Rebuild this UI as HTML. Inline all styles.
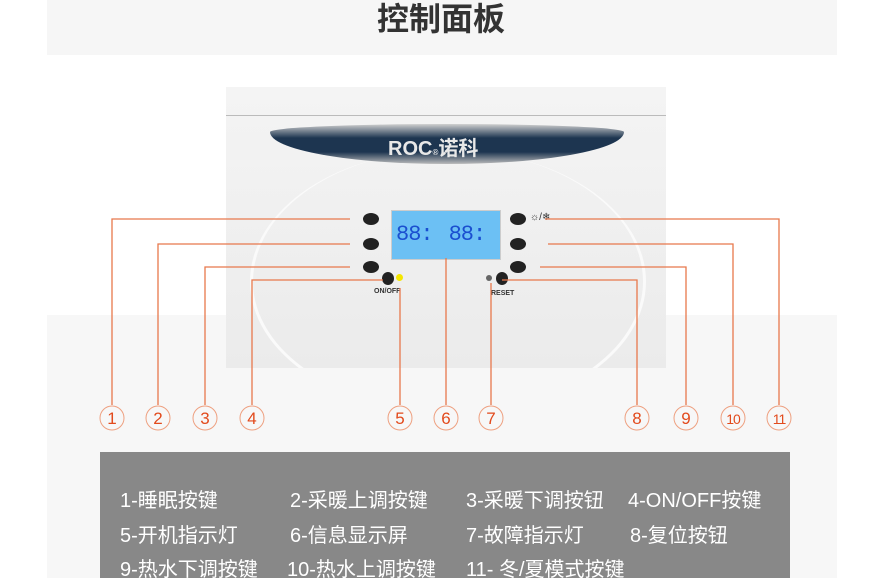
<!DOCTYPE html>
<html><head><meta charset="utf-8"><style>
body{margin:0;width:874px;height:582px;overflow:hidden;background:#fff;font-family:"Liberation Sans","Noto Sans CJK SC",sans-serif;position:relative}
.a{position:absolute}
.btn{position:absolute;width:16px;height:12px;border-radius:50%;background:#222}
.t{position:absolute;color:#fff;font-size:20px;white-space:nowrap}
</style></head><body>
<div class="a" style="left:47px;top:0;width:790px;height:55px;background:#f6f6f6"></div>
<div class="a" style="left:0;top:-6px;width:874px;text-align:center;font-size:32px;font-weight:bold;color:#333;margin-left:4px">控制面板</div>
<div class="a" style="left:47px;top:315px;width:790px;height:267px;background:#f7f7f7"></div>
<div class="a" style="left:226px;top:87px;width:440px;height:281px;background:linear-gradient(#f4f4f4,#ebebeb);overflow:hidden">
  <div class="a" style="left:24px;top:63px;width:390px;height:260px;border-radius:50%;border:3px solid #fafafa;border-top:none"></div>
</div>
<div class="a" style="left:226px;top:115px;width:440px;height:1px;background:#bbb"></div>
<div class="a" style="left:270px;top:124px;width:354px;height:40px;border-radius:50% 50% 50% 50%/20% 20% 80% 80%;background:linear-gradient(#d0d0d0,#1d3550 35%,#1d3550 70%,#bbb)"></div>
<div class="a" style="left:388px;top:132px;font-size:20px;font-weight:bold;color:#e8e8e8">ROC<span style="font-size:8px">®</span>诺科</div>
<div class="a" style="left:391px;top:210px;width:108px;height:48px;background:#6cc0f4;border:1px solid #ccc"></div>
<div class="a" style="left:396px;top:222px;font-size:22px;color:#1a4fd0;font-family:'Liberation Mono',monospace;letter-spacing:-1px">88:<span style="margin-left:16px">88:</span></div>
<div class="btn" style="left:363px;top:213px"></div>
<div class="btn" style="left:363px;top:238px"></div>
<div class="btn" style="left:363px;top:261px"></div>
<div class="btn" style="left:382px;top:272px;width:12px;height:13px"></div>
<div class="a" style="left:396px;top:274px;width:7px;height:7px;border-radius:50%;background:#f4e600"></div>
<div class="a" style="left:374px;top:288px;font-size:7px;font-weight:bold;color:#333">ON/OFF</div>
<div class="btn" style="left:510px;top:213px"></div>
<div class="btn" style="left:510px;top:238px"></div>
<div class="btn" style="left:510px;top:261px"></div>
<div class="btn" style="left:496px;top:272px;width:12px;height:13px"></div>
<div class="a" style="left:486px;top:275px;width:6px;height:6px;border-radius:50%;background:#666"></div>
<div class="a" style="left:491px;top:290px;font-size:7px;font-weight:bold;color:#333">RESET</div>
<div class="a" style="left:530px;top:212px;font-size:10px;color:#333">☼/❄</div>
<svg class="a" style="left:0;top:0" width="874" height="582">
<g stroke="#e8784c" stroke-width="1.3" fill="none">
<polyline points="350,219 112,219 112,405"/>
<polyline points="350,244 158,244 158,405"/>
<polyline points="350,267 205,267 205,405"/>
<polyline points="383,280 252,280 252,405"/>
<polyline points="400,288 400,405"/>
<polyline points="446,258 446,405"/>
<polyline points="491,283 491,405"/>
<polyline points="502,280 637,280 637,405"/>
<polyline points="540,267 686,267 686,405"/>
<polyline points="548,244 733,244 733,405"/>
<polyline points="545,219 779,219 779,405"/>
</g>
<g stroke="#eea080" stroke-width="1" fill="none">
<circle cx="112" cy="418" r="12"/><circle cx="158" cy="418" r="12"/><circle cx="205" cy="418" r="12"/><circle cx="252" cy="418" r="12"/>
<circle cx="400" cy="418" r="12"/><circle cx="446" cy="418" r="12"/><circle cx="491" cy="418" r="12"/>
<circle cx="637" cy="418" r="12"/><circle cx="686" cy="418" r="12"/><circle cx="733" cy="418" r="12"/><circle cx="779" cy="418" r="12"/>
</g>
<g fill="#e24a1c" font-size="17" text-anchor="middle" font-family="Liberation Sans,sans-serif">
<text x="112" y="424">1</text><text x="158" y="424">2</text><text x="205" y="424">3</text><text x="252" y="424">4</text>
<text x="400" y="424">5</text><text x="446" y="424">6</text><text x="491" y="424">7</text>
<text x="637" y="424">8</text><text x="686" y="424">9</text><text x="733" y="424" font-size="14" letter-spacing="-1">10</text><text x="779" y="424" font-size="14" letter-spacing="-1">11</text>
</g>
</svg>
<div class="a" style="left:100px;top:452px;width:690px;height:130px;background:#888"></div>
<div class="t" style="left:120px;top:484px">1-睡眠按键</div>
<div class="t" style="left:290px;top:484px">2-采暖上调按键</div>
<div class="t" style="left:466px;top:484px">3-采暖下调按钮</div>
<div class="t" style="left:628px;top:484px">4-ON/OFF按键</div>
<div class="t" style="left:120px;top:519px">5-开机指示灯</div>
<div class="t" style="left:290px;top:519px">6-信息显示屏</div>
<div class="t" style="left:466px;top:519px">7-故障指示灯</div>
<div class="t" style="left:630px;top:519px">8-复位按钮</div>
<div class="t" style="left:120px;top:553px">9-热水下调按键</div>
<div class="t" style="left:287px;top:553px">10-热水上调按键</div>
<div class="t" style="left:466px;top:553px">11- 冬/夏模式按键</div>
<div class="a" style="left:0;top:578px;width:874px;height:4px;background:#fff"></div>
</body></html>
